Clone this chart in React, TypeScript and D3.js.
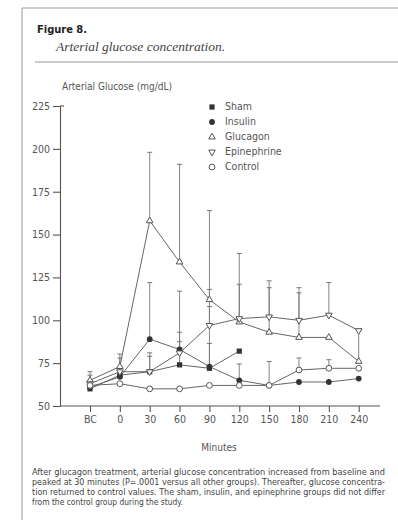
import React, {useEffect, useRef} from 'react';
import * as d3 from 'd3';

const W = 398;
const H = 520;

// categories on the x axis
const minutes = ['BC', '0', '30', '60', '90', '120', '150', '180', '210', '240'];
const yTicks = [50, 75, 100, 125, 150, 175, 200, 225];

const sham = [60, 68, 70, 74, 72, 82, null, null, null, null];
const insulin = [61, 67, 89, 83, 73, 65, 62, 64, 64, 66];
const glucagon = [65, 73, 158, 134, 112, 99, 93, 90, 90, 76];
const epinephrine = [63, 70, 70, 81, 97, 101, 102, 100, 103, 94];
const control = [62, 63, 60, 60, 62, 62, 62, 71, 72, 72];

// top of the error bars (null = no bar drawn)
const shamErr = [null, 78, 79, 87.5, 86.5, null, null, null, null, null];
const insulinErr = [null, null, 122, 117, 108, 74.5, null, null, null, null];
const glucagonErr = [70, 80.3, 198, 191, 164, 121, 119, 116, null, 94];
const epinephrineErr = [68, null, 81, 93, 118, 139, 123, 119, 122, null];
const controlErr = [null, null, null, null, null, null, 76, 78, 77, null];

const legendLabels = ['Sham', 'Insulin', 'Glucagon', 'Epinephrine', 'Control'];

const caption = [
    'After glucagon treatment, arterial glucose concentration increased from baseline and',
    'peaked at 30 minutes (P=.0001 versus all other groups). Thereafter, glucose concentra-',
    'tion returned to control values. The sham, insulin, and epinephrine groups did not differ',
    'from the control group during the study.'
];

const ink = '#555';
const narrow = '"Liberation Sans Narrow", "DejaVu Sans Condensed", "Arial Narrow", sans-serif';

const App = () => {
    const anchor = useRef(null);

    useEffect(() => {
        const svg = d3.select(anchor.current);
        svg.selectAll('*').remove();

        const x = d3.scalePoint().domain(minutes).range([90, 358.7]);
        const y = d3.scaleLinear().domain([50, 225]).range([406, 106]);

        // frame and header
        svg.append('line').attr('x1', 22).attr('x2', 22).attr('y1', 8).attr('y2', H)
            .attr('stroke', '#999').attr('stroke-width', 1);
        svg.append('line').attr('x1', 22).attr('x2', W).attr('y1', 8).attr('y2', 8)
            .attr('stroke', '#999').attr('stroke-width', 1);
        svg.append('line').attr('x1', 35).attr('x2', W).attr('y1', 62).attr('y2', 62)
            .attr('stroke', '#999').attr('stroke-width', 1);

        svg.append('text').attr('x', 37).attr('y', 33)
            .style('font-family', narrow).style('font-weight', 'bold').style('font-size', '11px')
            .attr('fill', '#222').text('Figure 8.');
        svg.append('text').attr('x', 56).attr('y', 51)
            .style('font-family', '"Liberation Serif", serif').style('font-style', 'italic').style('font-size', '13.5px')
            .attr('fill', '#444').text('Arterial glucose concentration.');

        svg.append('text').attr('x', 62).attr('y', 90)
            .style('font-family', narrow).style('font-size', '10px')
            .attr('fill', ink).text('Arterial Glucose (mg/dL)');

        // axes
        const yAxis = svg.append('g').attr('transform', 'translate(60,0)')
            .call(d3.axisLeft(y).tickValues(yTicks).tickSize(7).tickSizeOuter(0).tickPadding(3));
        const xAxis = svg.append('g').attr('transform', 'translate(0,406)')
            .call(d3.axisBottom(x).tickSize(6).tickSizeOuter(0).tickPadding(4));
        xAxis.select('.domain').attr('d', 'M60,0H380');
        [yAxis, xAxis].forEach((g) => {
            g.select('.domain').attr('stroke', ink).attr('stroke-width', 1.1);
            g.selectAll('.tick line').attr('stroke', ink).attr('stroke-width', 1.1);
            g.selectAll('.tick text').style('font-family', narrow).style('font-size', '10.5px').attr('fill', ink);
        });
        // small cap at the top of the y axis
        svg.append('line').attr('x1', 60).attr('x2', 64).attr('y1', y(225)).attr('y2', y(225))
            .attr('stroke', ink).attr('stroke-width', 1.1);

        svg.append('text').attr('x', 219).attr('y', 451).attr('text-anchor', 'middle')
            .style('font-family', narrow).style('font-size', '10px').attr('fill', ink).text('Minutes');

        const series = [
            {name: 'Sham', values: sham, err: shamErr, shape: 'square'},
            {name: 'Insulin', values: insulin, err: insulinErr, shape: 'dot'},
            {name: 'Glucagon', values: glucagon, err: glucagonErr, shape: 'up'},
            {name: 'Epinephrine', values: epinephrine, err: epinephrineErr, shape: 'down'},
            {name: 'Control', values: control, err: controlErr, shape: 'ring'}
        ];

        const plot = svg.append('g');

        // error bars
        series.forEach((s) => {
            s.err.forEach((e, i) => {
                const v = s.values[i];
                if (e === null || v === null) return;
                const cx = x(minutes[i]);
                plot.append('line').attr('x1', cx).attr('x2', cx).attr('y1', y(v)).attr('y2', y(e))
                    .attr('stroke', '#777').attr('stroke-width', 0.9);
                plot.append('line').attr('x1', cx - 2.5).attr('x2', cx + 2.5).attr('y1', y(e)).attr('y2', y(e))
                    .attr('stroke', '#777').attr('stroke-width', 1);
            });
        });

        // lines
        const line = d3.line()
            .defined((d) => d.v !== null)
            .x((d) => x(d.m))
            .y((d) => y(d.v));
        series.forEach((s) => {
            plot.append('path')
                .datum(s.values.map((v, i) => ({m: minutes[i], v})))
                .attr('d', line)
                .attr('fill', 'none').attr('stroke', '#666').attr('stroke-width', 1);
        });

        function marker(g, shape, cx, cy) {
            if (shape === 'square') {
                g.append('rect').attr('x', cx - 2.6).attr('y', cy - 2.6).attr('width', 5.2).attr('height', 5.2)
                    .attr('fill', '#333');
            } else if (shape === 'dot') {
                g.append('circle').attr('cx', cx).attr('cy', cy).attr('r', 2.9).attr('fill', '#333');
            } else if (shape === 'ring') {
                g.append('circle').attr('cx', cx).attr('cy', cy).attr('r', 2.9)
                    .attr('fill', 'white').attr('stroke', '#555').attr('stroke-width', 1);
            } else {
                const sym = d3.symbol().type(d3.symbolTriangle).size(19);
                g.append('path').attr('d', sym)
                    .attr('transform', `translate(${cx},${cy})` + (shape === 'down' ? ' rotate(180)' : ''))
                    .attr('fill', 'white').attr('stroke', '#555').attr('stroke-width', 1);
            }
        }

        series.forEach((s) => {
            s.values.forEach((v, i) => {
                if (v === null) return;
                marker(plot, s.shape, x(minutes[i]), y(v));
            });
        });

        // legend
        legendLabels.forEach((label, i) => {
            const ly = 110 + i * 15;
            marker(svg, series[i].shape, 212, ly - 3);
            svg.append('text').attr('x', 225).attr('y', ly)
                .style('font-family', narrow).style('font-size', '10.5px').attr('fill', ink).text(label);
        });

        // caption
        caption.forEach((t, i) => {
            const txt = svg.append('text').attr('x', 32).attr('y', 475 + i * 10)
                .style('font-family', narrow).style('font-size', '8.4px').attr('fill', '#444').text(t);
            if (i < 3) txt.attr('textLength', 353).attr('lengthAdjust', 'spacingAndGlyphs');
        });
    }, []);

    return <svg ref={anchor} width={W} height={H}
                style={{position: 'absolute', left: 0, top: 0, background: 'white'}}/>;
};

export default App;
